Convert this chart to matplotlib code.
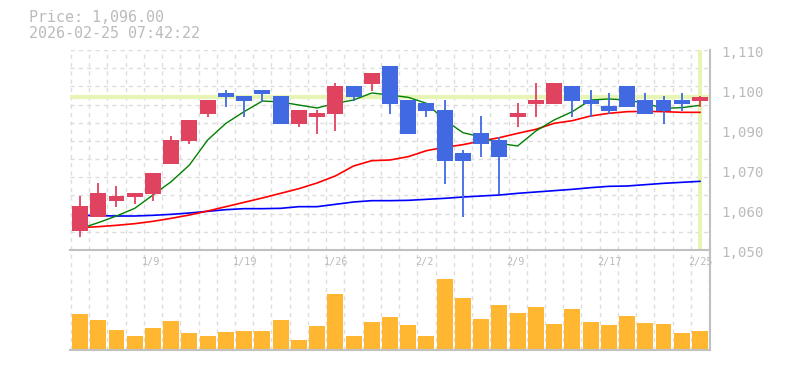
import numpy as np
import matplotlib
matplotlib.use("Agg")
import matplotlib.pyplot as plt
from matplotlib.transforms import blended_transform_factory, offset_copy

# ---- data ----
opens = [1055.7, 1059.9, 1064.7, 1065.9, 1066.8, 1075.8, 1082.7, 1090.8, 1097.1, 1096.2,
         1098.0, 1096.2, 1087.8, 1089.9, 1090.8, 1099.2, 1099.8, 1105.2, 1095.0, 1094.1,
         1092.0, 1079.1, 1085.1, 1083.0, 1089.9, 1093.8, 1093.8, 1099.2, 1095.0, 1093.2,
         1099.2, 1095.0, 1095.0, 1095.0, 1094.7]
highs = [1066.2, 1070.1, 1069.2, 1067.1, 1073.1, 1084.2, 1089.0, 1095.0, 1098.0, 1096.2,
         1098.0, 1096.2, 1092.0, 1092.0, 1100.1, 1099.2, 1103.1, 1105.2, 1095.0, 1094.1,
         1095.0, 1080.0, 1090.2, 1083.9, 1094.1, 1100.1, 1100.1, 1099.2, 1098.0, 1097.1,
         1099.2, 1097.1, 1096.2, 1097.1, 1096.2]
lows = [1054.0, 1059.9, 1062.9, 1063.8, 1064.7, 1075.8, 1081.8, 1089.9, 1092.9, 1089.9,
        1094.4, 1087.8, 1086.9, 1084.8, 1085.7, 1094.7, 1097.7, 1090.8, 1084.8, 1089.9,
        1069.8, 1059.9, 1077.9, 1066.8, 1086.9, 1089.9, 1093.8, 1089.9, 1089.9, 1090.8,
        1092.9, 1090.8, 1087.8, 1091.7, 1092.9]
closes = [1063.2, 1067.1, 1066.2, 1067.1, 1073.1, 1083.0, 1089.0, 1095.0, 1095.9, 1094.7,
          1096.8, 1087.8, 1092.0, 1091.1, 1099.2, 1095.9, 1103.1, 1093.8, 1084.8, 1091.7,
          1076.7, 1076.7, 1081.8, 1077.9, 1091.1, 1095.0, 1100.1, 1094.7, 1093.8, 1091.7,
          1092.9, 1090.8, 1091.7, 1093.8, 1096.0]
volumes = [108, 90, 60, 42, 66, 87, 51, 42, 54, 57, 57, 90, 30, 72, 168, 42, 84, 99,
           75, 42, 213, 156, 93, 135, 111, 129, 78, 123, 84, 75, 102, 81, 78, 51, 57]
ma_short = [1056.4, 1058.2, 1060.2, 1062.5, 1066.5, 1070.5, 1075.5, 1083.0, 1088.0, 1091.5,
            1094.7, 1094.4, 1093.5, 1092.6, 1094.0, 1095.0, 1097.1, 1096.5, 1095.8, 1094.0,
            1089.0, 1085.2, 1083.9, 1082.0, 1081.2, 1085.7, 1089.0, 1091.5, 1095.0, 1095.3,
            1095.0, 1094.0, 1092.5, 1092.7, 1093.4]
ma_mid = [1056.7, 1057.0, 1057.4, 1057.9, 1058.6, 1059.5, 1060.5, 1061.7, 1063.0, 1064.3,
          1065.6, 1067.0, 1068.4, 1070.1, 1072.2, 1075.2, 1076.8, 1077.0, 1078.0, 1079.8,
          1080.8, 1081.6, 1082.7, 1083.7, 1085.0, 1086.2, 1088.0, 1088.8, 1090.2, 1091.0,
          1091.5, 1091.6, 1091.5, 1091.3, 1091.3]
ma_long = [1060.4, 1060.3, 1060.2, 1060.2, 1060.4, 1060.7, 1061.1, 1061.6, 1062.1, 1062.4,
           1062.4, 1062.5, 1063.0, 1063.0, 1063.7, 1064.4, 1064.8, 1064.8, 1064.9, 1065.2,
           1065.5, 1065.9, 1066.2, 1066.5, 1067.0, 1067.4, 1067.8, 1068.2, 1068.7, 1069.1,
           1069.2, 1069.6, 1070.0, 1070.3, 1070.6]
date_labels = ["1/9", "1/19", "1/26", "2/2", "2/9", "2/17", "2/25"]
date_idx = [3, 8, 13, 18, 23, 28, 33]
last_price = 1096.0
header = ["Price: 1,096.00", "2026-02-25 07:42:22"]

UP = "#e0435f"
DOWN = "#4169e1"
VOL = "#ffb732"
MARK = "#e6f5b4"
TXT = "#bbbbbb"
GRID = "#dddddd"
SPINE = "#c0c0c0"

n = len(closes)
x = np.arange(n)
o, h, l, c = map(np.array, (opens, highs, lows, closes))
colors = np.where(c >= o, UP, DOWN)

W, H = 785, 370
fig = plt.figure(figsize=(W / 100, H / 100), dpi=100)
ax = fig.add_axes([70 / W, 1 - 250 / H, 640 / W, 200 / H])
axv = fig.add_axes([70 / W, 1 - 350 / H, 640 / W, 100 / H])

xlim = (-0.55, n - 0.45)
for a in (ax, axv):
    a.set_xlim(*xlim)
    a.set_xticks([])
    a.set_yticks([])
    for s in a.spines.values():
        s.set_visible(False)
    for gx in np.arange(n + 1) - 0.5:
        a.axvline(gx, color=GRID, lw=1, ls=(0, (3, 3)), zorder=0)

# ---- price panel ----
ax.set_ylim(1050, 1110)
for gy in np.linspace(1050, 1110, 12):
    ax.axhline(gy, color=GRID, lw=1, ls=(0, (3, 3)), zorder=0)
ax.spines["right"].set_visible(True)
ax.spines["right"].set_color(SPINE)
ax.spines["right"].set_linewidth(1.5)

ax.axhline(last_price, color=MARK, lw=3, zorder=1)
ax.axvline(x[-1], color=MARK, lw=3, zorder=1)

ax.plot(x, ma_long, color="#0000ff", lw=1.2, zorder=2)
ax.plot(x, ma_mid, color="#ff0000", lw=1.2, zorder=2)
ax.plot(x, ma_short, color="#008000", lw=1.0, zorder=2)

ax.vlines(x, l, h, colors=colors, lw=1.3, zorder=3)
body = np.maximum(np.abs(c - o), 0.3)
ax.bar(x, body, bottom=np.minimum(o, c), width=0.875, color=colors, zorder=4)

ytr = offset_copy(blended_transform_factory(ax.transAxes, ax.transData), fig=fig, x=11, y=-3, units="dots")
for v in np.linspace(1110, 1050, 6):
    ax.text(1.0, v, f"{round(v, -1):,.0f}", transform=ytr, ha="left", va="center",
            fontsize=10.2, color=TXT, family="DejaVu Sans Mono", clip_on=False)

# ---- volume panel ----
axv.set_ylim(0, 300)
axv.bar(x, volumes, width=0.875, color=VOL, zorder=2)
for side in ("top", "right", "bottom"):
    axv.spines[side].set_visible(True)
    axv.spines[side].set_color(SPINE)
    axv.spines[side].set_linewidth(1.5)

dtr = blended_transform_factory(axv.transData, axv.transAxes)
for i, lab in zip(date_idx, date_labels):
    axv.text(i + 0.37, 0.88, lab, transform=dtr, ha="left", va="center",
             fontsize=7.3, color=TXT, family="DejaVu Sans Mono", clip_on=False)

# ---- header ----
fig.text(29 / W, 1 - 18 / H, header[0], ha="left", va="center", fontsize=10.8,
         color=TXT, family="DejaVu Sans Mono")
fig.text(29 / W, 1 - 33 / H, header[1], ha="left", va="center", fontsize=10.8,
         color=TXT, family="DejaVu Sans Mono")

fig.savefig("out.png", dpi=100, facecolor="white")
